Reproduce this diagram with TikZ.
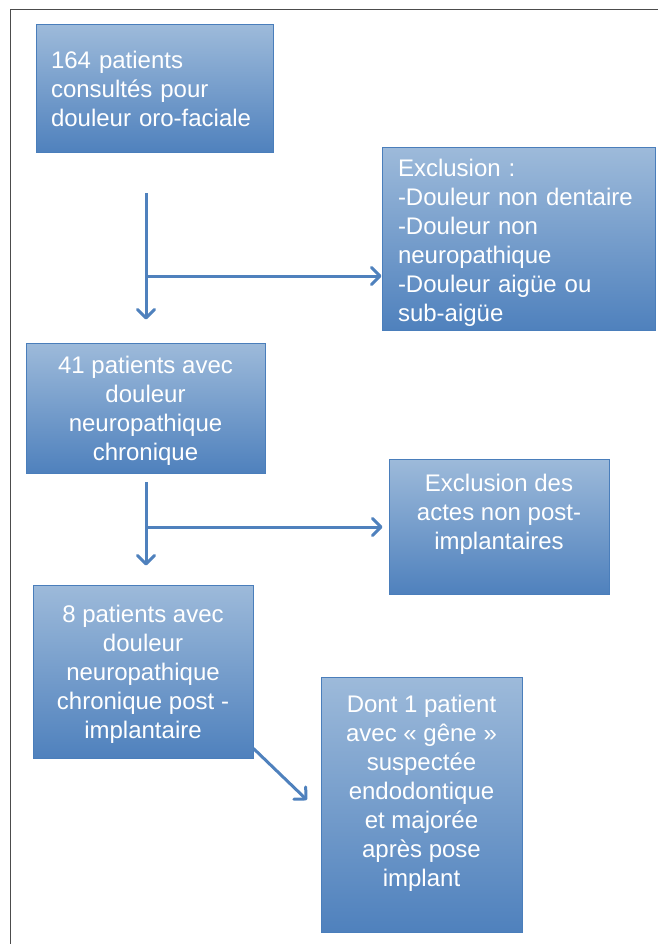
\documentclass[tikz,border=0pt]{standalone}
\usepackage{fontspec}
\setmainfont{Liberation Sans}
\usetikzlibrary{arrows.meta}
\definecolor{boxtop}{RGB}{157,186,218}
\definecolor{boxbot}{RGB}{79,129,189}
\definecolor{boxedge}{RGB}{74,126,187}
\definecolor{arrowblue}{RGB}{79,129,189}
\begin{document}
\begin{tikzpicture}[x=1pt,y=-1pt,
    flowbox/.style={draw=boxedge,line width=1pt,top color=boxtop,bottom color=boxbot,text=white,font=\fontsize{24}{29}\selectfont,inner sep=0pt},
    flowarrow/.style={draw=arrowblue,line width=3pt,-{Straight Barb[length=8.5pt,width=17pt,round]}},
    lifttext/.style={text depth=#1}]
      \useasboundingbox (0,0) rectangle (658,944);
      \draw[gray!60!black] (10,944) -- (10,9) -- (658,9);
      \node[flowbox,minimum width=237,minimum height=128,text width=207,align=left] (consult) at (154.5,89) {164 patients\\consultés pour\\douleur oro-faciale};
      \node[flowbox,minimum width=273,minimum height=182,text width=241,align=left,text height=25pt] (excl1) at (518.5,239) {Exclusion :\\-Douleur non dentaire\\-Douleur non\\neuropathique\\-Douleur aigüe ou\\sub-aigüe};
      \node[flowbox,minimum width=239,minimum height=130,align=center,lifttext=0pt] (neuro) at (145.5,408) {41 patients avec\\douleur\\neuropathique\\chronique};
      \node[flowbox,minimum width=220,minimum height=135,align=center,lifttext=30pt] (excl2) at (499,526.5) {Exclusion des\\actes non post-\\implantaires};
      \node[flowbox,minimum width=220,minimum height=173,align=center,lifttext=0pt] (implant) at (143,671.5) {8 patients avec\\douleur\\neuropathique\\chronique post -\\implantaire};
      \node[flowbox,minimum width=201,minimum height=255,align=center,lifttext=27pt] (endo) at (421.5,804.5) {Dont 1 patient\\avec « gêne »\\suspectée\\endodontique\\et majorée\\après pose\\implant};
      \coordinate (fork1) at (146,193);
      \coordinate (branch1) at (146,276);
      \coordinate (fork2) at (146,482);
      \coordinate (branch2) at (146,527);
      \coordinate (diag) at (307,800);
      \draw[flowarrow,shorten >=23pt] (fork1) -- (fork1 |- neuro.north);
      \draw[flowarrow] (branch1) -- (branch1 -| excl1.west);
      \draw[flowarrow,shorten >=19pt] (fork2) -- (fork2 |- implant.north);
      \draw[flowarrow,shorten >=6pt] (branch2) -- (branch2 -| excl2.west);
      \draw[flowarrow] ([yshift=10pt]implant.south east) -- (diag);
\end{tikzpicture}
\end{document}
